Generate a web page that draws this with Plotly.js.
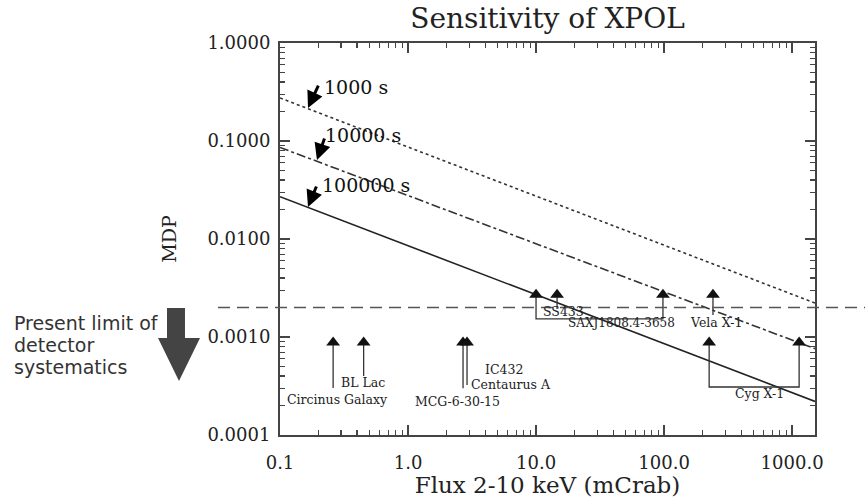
<!DOCTYPE html>
<html><head><meta charset="utf-8">
<script src="https://cdn.plot.ly/plotly-3.0.1.min.js"></script>
<style>html,body{margin:0;padding:0;background:#fff}#chart{width:865px;height:498px}</style>
</head><body><div id="chart"></div>
<script>
// ---- data ----
const lineFlux = [0.1, 1510];
const mdp1000 = [0.275, 0.00222];
const mdp10000 = [0.086, 0.00076];
const mdp100000 = [0.027, 0.00022];
const systLimit = 0.002;

const exposureLabels = ['1000 s', '10000 s', '100000 s'];
const arrowTipX = [0.1655, 0.1945, 0.1655];
const arrowTipY = [0.217, 0.0641, 0.0212];
const expLabelX = [0.213, 0.217, 0.205];
const expLabelY = [0.355, 0.115, 0.0356];

const upperFlux = [10, 14.6, 98, 241];
const upperMDP = [0.0027, 0.0027, 0.0027, 0.0027];
const lowerFlux = [0.26, 0.45, 2.69, 2.89, 225, 1135];
const lowerMDP = [0.00088, 0.00088, 0.00088, 0.00088, 0.00088, 0.00088];

const leaderX = [[0.26, 0.26], [0.45, 0.45], [2.69, 2.69], [2.89, 2.89], [14.6, 14.6], [241, 241],
                 [10, 10, 98, 98], [225, 225, 1135, 1135]];
const leaderY = [[0.00088, 0.000302], [0.00088, 0.0004], [0.00088, 0.0003], [0.00088, 0.000324],
                 [0.0027, 0.00193], [0.0027, 0.00168],
                 [0.0027, 0.00153, 0.00153, 0.0027], [0.00088, 0.000309, 0.000309, 0.00088]];

const srcLabels = ['Circinus Galaxy', 'BL Lac', 'MCG-6-30-15', 'IC432', 'Centaurus A',
                   'SS433', 'SAXJ1808.4-3658', 'Vela X-1', 'Cyg X-1'];
const srcLabelX = [0.279, 0.445, 2.415, 3.85, 3.0, 10.9, 17.0, 153, 346];
const srcLabelY = [0.000228, 0.00034, 0.000222, 0.00047, 0.00033, 0.00184, 0.00139, 0.00139, 0.000268];
const srcLabelAnchor = ['center', 'center', 'center', 'left', 'left', 'left', 'left', 'left', 'left'];

const xTickVals = [0.1, 1, 10, 100, 1000];
const xTickText = ['0.1', '1.0', '10.0', '100.0', '1000.0'];
const yTickVals = [1, 0.1, 0.01, 0.001, 0.0001];
const yTickText = ['1.0000', '0.1000', '0.0100', '0.0010', '0.0001'];

const noteLines = ['Present limit of', 'detector', 'systematics'];

// ---- build ----
function minorVals(lo, hi) {
  const v = [];
  for (let e = lo; e <= hi; e++) for (let m = 2; m <= 9; m++) v.push(m * Math.pow(10, e));
  return v;
}
const L = 280, R = 50, T = 43, B = 63, W = 865, H = 498;
const PW = W - L - R, PH = H - T - B;
const px = x => (x - L) / PW, py = y => (T + PH - y) / PH;

const traces = [];
traces.push({x: lineFlux, y: mdp1000, mode: 'lines', line: {color: '#333', width: 1.6, dash: 'dot'}, hoverinfo: 'skip'});
traces.push({x: lineFlux, y: mdp10000, mode: 'lines', line: {color: '#333', width: 1.6, dash: 'dashdot'}, hoverinfo: 'skip'});
traces.push({x: lineFlux, y: mdp100000, mode: 'lines', line: {color: '#222', width: 1.6}, hoverinfo: 'skip'});
for (let i = 0; i < leaderX.length; i++) {
  traces.push({x: leaderX[i], y: leaderY[i], mode: 'lines', line: {color: '#333', width: 1.3}, hoverinfo: 'skip'});
}
traces.push({x: upperFlux.concat(lowerFlux), y: upperMDP.concat(lowerMDP), mode: 'markers',
  marker: {symbol: 'triangle-up', size: 12, color: '#111'}, hoverinfo: 'skip'});

const annotations = [];
for (let i = 0; i < exposureLabels.length; i++) {
  annotations.push({x: Math.log10(expLabelX[i]), y: Math.log10(expLabelY[i]), xref: 'x', yref: 'y',
    text: exposureLabels[i], showarrow: false, xanchor: 'left', yanchor: 'middle',
    font: {family: 'DejaVu Serif', size: 19, color: '#111'}});
}
const tails = [[11, -24], [8, -23], [9, -22]];
for (let i = 0; i < arrowTipX.length; i++) {
  annotations.push({x: Math.log10(arrowTipX[i]), y: Math.log10(arrowTipY[i]), xref: 'x', yref: 'y',
    text: '', showarrow: true, arrowhead: 2, arrowsize: 1.1, arrowwidth: 3, arrowcolor: '#000',
    ax: tails[i][0], ay: tails[i][1], standoff: 0});
}
for (let i = 0; i < srcLabels.length; i++) {
  annotations.push({x: Math.log10(srcLabelX[i]), y: Math.log10(srcLabelY[i]), xref: 'x', yref: 'y',
    text: srcLabels[i], showarrow: false, xanchor: srcLabelAnchor[i], yanchor: 'middle',
    font: {family: 'DejaVu Serif', size: i === 6 ? 12 : 12.5, color: '#222'}});
}
const noteY = [323, 345, 367];
for (let i = 0; i < noteLines.length; i++) {
  annotations.push({x: px(12), y: py(noteY[i]), xref: 'paper', yref: 'paper', text: noteLines[i],
    showarrow: false, xanchor: 'left', yanchor: 'middle',
    font: {family: 'DejaVu Sans', size: 19, color: '#333'}});
}

const arrowPts = [[167, 308], [185, 308], [185, 338], [200, 338], [179, 381], [158, 338], [167, 338]];
const arrowPath = 'M ' + arrowPts.map(p => px(p[0]).toFixed(4) + ',' + py(p[1]).toFixed(4)).join(' L ') + ' Z';

const shapes = [
  {type: 'line', xref: 'paper', yref: 'y', x0: px(218), x1: px(865), y0: systLimit, y1: systLimit,
   line: {color: '#555', width: 1.5, dash: '12px,7px'}},
  {type: 'path', xref: 'paper', yref: 'paper', path: arrowPath, fillcolor: '#444', line: {width: 0}}
];

const axisCommon = {type: 'log', ticks: 'inside', mirror: 'allticks', showline: true, linecolor: '#444', linewidth: 2,
  tickcolor: '#444', tickwidth: 1.3, ticklen: 10, showgrid: false, zeroline: false, tickmode: 'array',
  tickfont: {family: 'DejaVu Serif', size: 18, color: '#222'}};

const layout = {
  width: W, height: H, margin: {l: L, r: R, t: T, b: B}, showlegend: false,
  paper_bgcolor: '#fff', plot_bgcolor: '#fff',
  title: {text: 'Sensitivity of XPOL', font: {family: 'DejaVu Serif', size: 28, color: '#222'},
    x: 0.5, xref: 'paper', xanchor: 'center', y: 1 - 18 / H, yref: 'container', yanchor: 'middle'},
  xaxis: Object.assign({}, axisCommon, {range: [-1, Math.log10(1510)], tickvals: xTickVals, ticktext: xTickText,
    ticklabelstandoff: 10,
    minor: {tickvals: minorVals(-1, 3), ticks: 'inside', ticklen: 5, tickcolor: '#444', tickwidth: 1.2},
    title: {text: 'Flux 2-10 keV (mCrab)', font: {family: 'DejaVu Serif', size: 23, color: '#222'}, standoff: 6}}),
  yaxis: Object.assign({}, axisCommon, {range: [-4, 0], tickvals: yTickVals, ticktext: yTickText,
    ticklabelstandoff: 4,
    minor: {tickvals: minorVals(-4, -1), ticks: 'inside', ticklen: 5, tickcolor: '#444', tickwidth: 1.2},
    title: {text: 'MDP', font: {family: 'DejaVu Serif', size: 19, color: '#222'}, standoff: 26}}),
  annotations: annotations, shapes: shapes
};

Plotly.newPlot('chart', traces, layout, {displayModeBar: false, staticPlot: true});
</script></body></html>
